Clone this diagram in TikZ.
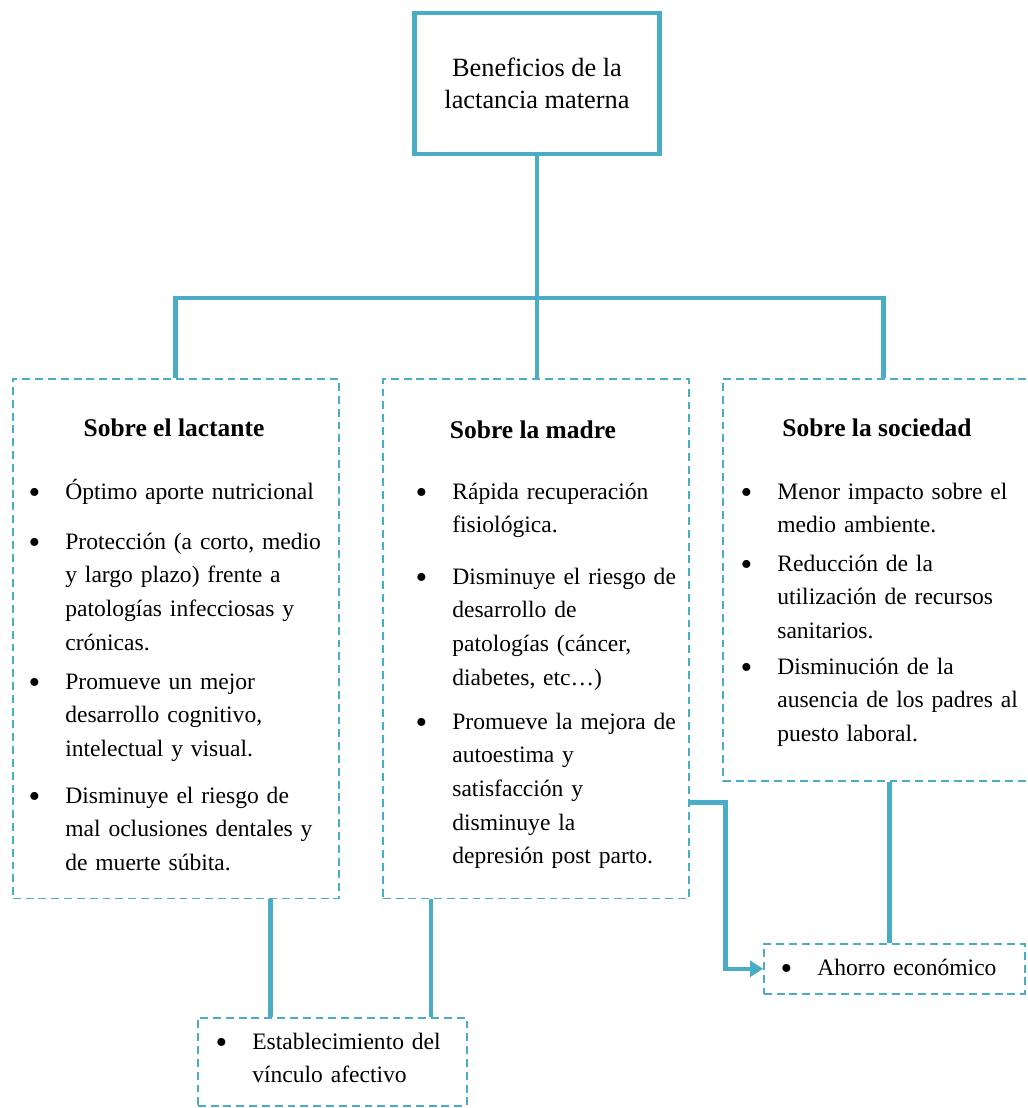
\documentclass[tikz,border=0pt]{standalone}
\usepackage{fontspec}
\setmainfont{Liberation Serif}
\usetikzlibrary{arrows.meta, positioning}
\definecolor{lineaAzul}{HTML}{4BACC6}
\newcommand{\vineta}{\llap{\raisebox{-2.3pt}{\fontsize{19}{19}\selectfont\textbullet}\hspace{0.5cm}}}

\begin{document}
\begin{tikzpicture}[x=0.02cm, y=-0.02cm,
    caja/.style={rectangle, draw=lineaAzul, line width=0.9pt,
                 dash pattern=on 4.5pt off 2.8pt, anchor=north west, inner sep=0pt},
    titulo/.style={font=\fontsize{14.5}{18}\selectfont\bfseries, anchor=base, inner sep=0pt},
    punto/.style={font=\fontsize{13.4}{19.2}\selectfont, anchor=base west,
                  inner sep=0pt, align=left},
    enlace/.style={draw=lineaAzul, line width=2.6pt},
  ]
    \useasboundingbox (0,0) rectangle (1027,1108);

    % Raiz
    \node[draw=lineaAzul, line width=2.8pt, minimum width=4.9cm, minimum height=2.82cm,
          align=center, font=\fontsize{15}{18.2}\selectfont] (raiz) at (537,83.5)
          {Beneficios de la\\lactancia materna};

    % Cajas
    \node[caja, minimum width=6.52cm, minimum height=10.4cm] (lact) at (12,378) {};
    \node[caja, minimum width=6.12cm, minimum height=10.4cm] (madre) at (382,378) {};
    \node[caja, minimum width=6.2cm, minimum height=8.04cm] (soc) at (722,378) {};
    \node[caja, minimum width=5.38cm, minimum height=1.76cm] (vinc) at (197,1017) {};
    \node[caja, minimum width=5.22cm, minimum height=1.0cm] (aho) at (763,943) {};

    % Sobre el lactante
    \node[titulo] (tLact) at (174,436) {Sobre el lactante};
    \node[punto, text width=5.3cm] (lact1) at (65,499) {\vineta Óptimo aporte nutricional};
    \node[punto, text width=5.3cm] (lact2) at (65,549)
      {\vineta Protección (a corto, medio\\y largo plazo) frente a\\patologías infecciosas y\\crónicas.};
    \node[punto, text width=5.3cm] (lact3) at (65,689)
      {\vineta Promueve un mejor\\desarrollo cognitivo,\\intelectual y visual.};
    \node[punto, text width=5.3cm] (lact4) at (65,803)
      {\vineta Disminuye el riesgo de\\mal oclusiones dentales y\\de muerte súbita.};

    % Sobre la madre
    \node[titulo] (tMadre) at (533,438) {Sobre la madre};
    \node[punto, text width=4.7cm] (madre1) at (452,499)
      {\vineta Rápida recuperación\\fisiológica.};
    \node[punto, text width=4.7cm] (madre2) at (452,584)
      {\vineta Disminuye el riesgo de\\desarrollo de\\patologías (cáncer,\\diabetes, etc…)};
    \node[punto, text width=4.7cm] (madre3) at (452,729)
      {\vineta Promueve la mejora de\\autoestima y\\satisfacción y\\disminuye la\\depresión post parto.};

    % Sobre la sociedad
    \node[titulo] (tSoc) at (877,436) {Sobre la sociedad};
    \node[punto, text width=4.9cm] (soc1) at (777,499)
      {\vineta Menor impacto sobre el\\medio ambiente.};
    \node[punto, text width=4.9cm] (soc2) at (777,571)
      {\vineta Reducción de la\\utilización de recursos\\sanitarios.};
    \node[punto, text width=4.9cm] (soc3) at (777,674)
      {\vineta Disminución de la\\ausencia de los padres al\\puesto laboral.};

    % Cajas de abajo
    \node[punto, text width=4.2cm] (vinc1) at (252,1049)
      {\vineta Establecimiento del\\vínculo afectivo};
    \node[punto, text width=4.1cm] (aho1) at (817,975) {\vineta Ahorro económico};

    % Enlaces
    \coordinate (cruce) at (537,298);
    \draw[enlace] (raiz.south) -- (cruce);
    \draw[enlace] (cruce) -| (lact.north);
    \draw[enlace] (cruce) -- (cruce |- madre.north);
    \draw[enlace] (cruce) -| ([xshift=0.12cm]soc.north);

    \coordinate (bajoL) at ([xshift=1.9cm]lact.south);
    \coordinate (bajoM) at ([xshift=-2.1cm]madre.south);
    \coordinate (bajoS) at ([xshift=0.24cm]soc.south);
    \draw[enlace] (bajoL) -- (bajoL |- vinc.north);
    \draw[enlace] (bajoM) -- (bajoM |- vinc.north);
    \draw[enlace] (bajoS) -- (bajoS |- aho.north);

    \coordinate (salida) at ([yshift=-3.28cm]madre.east);
    \draw[enlace, -{Triangle[length=0.26cm, width=0.32cm]}]
      (salida) -- ++(36,0) |- (aho.west);
  \end{tikzpicture}
\end{document}
